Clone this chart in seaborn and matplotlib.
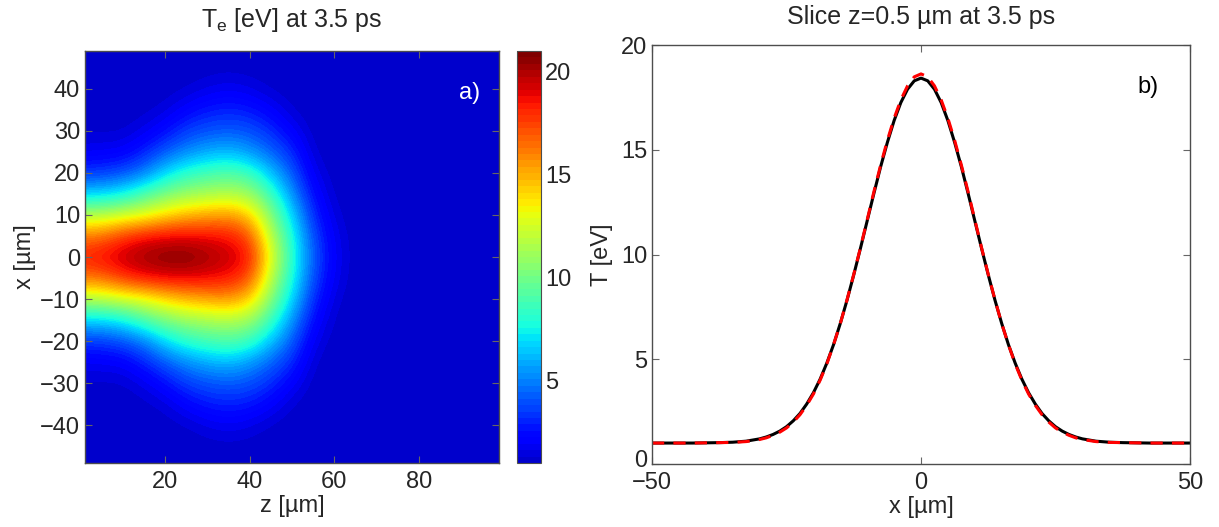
import numpy as np
import matplotlib
matplotlib.use('Agg')
import matplotlib.pyplot as plt
import seaborn as sns
from matplotlib.colors import ListedColormap
from matplotlib.transforms import ScaledTranslation

# --- panel a): T_e field on a 5 um grid (x >= 0 half, symmetric in x)
z_grid = [0, 5, 10, 15, 20, 25, 30, 35, 40, 45, 50, 55, 60, 65, 70, 75, 80, 85, 90, 95, 100]
x_half = [0, 5, 10, 15, 20, 25, 30, 35, 40, 45, 50]
te_cols = [
    [18.35, 16.3, 11.6, 6.7, 3.4, 1.8, 1.2, 1.04, 1.0, 1.0, 1.0],     # z=0
    [18.9, 16.5, 11.8, 6.8, 3.5, 1.9, 1.2, 1.05, 1.0, 1.0, 1.0],      # z=5
    [19.7, 17.8, 12.4, 7.4, 4.0, 2.0, 1.2, 1.05, 1.0, 1.0, 1.0],      # z=10
    [20.4, 18.6, 12.9, 9.0, 4.9, 3.0, 1.65, 1.15, 1.02, 1.0, 1.0],    # z=15
    [20.9, 18.9, 14.0, 10.2, 6.9, 4.2, 2.5, 1.4, 1.08, 1.0, 1.0],     # z=20
    [20.9, 19.0, 14.8, 11.0, 8.2, 5.2, 3.6, 2.2, 1.25, 1.03, 1.0],    # z=25
    [20.3, 18.8, 15.2, 11.4, 8.8, 5.9, 4.0, 2.8, 1.6, 1.1, 1.0],      # z=30
    [19.6, 18.5, 15.6, 11.6, 9.2, 6.25, 4.2, 3.0, 1.85, 1.15, 1.02],  # z=35
    [18.6, 17.3, 14.4, 11.2, 8.6, 5.5, 4.0, 2.8, 1.6, 1.1, 1.0],      # z=40
    [13.0, 11.9, 10.5, 8.65, 6.4, 4.4, 3.25, 2.1, 1.2, 1.05, 1.0],    # z=45
    [8.1, 7.8, 6.8, 5.45, 4.25, 3.2, 2.1, 1.25, 1.05, 1.0, 1.0],      # z=50
    [4.3, 3.9, 3.2, 2.45, 1.75, 1.25, 1.05, 1.0, 1.0, 1.0, 1.0],      # z=55
    [1.9, 1.75, 1.4, 1.15, 1.05, 1.0, 1.0, 1.0, 1.0, 1.0, 1.0],       # z=60
    [1.05, 1.03, 1.0, 1.0, 1.0, 1.0, 1.0, 1.0, 1.0, 1.0, 1.0],        # z=65
    [1.0, 1.0, 1.0, 1.0, 1.0, 1.0, 1.0, 1.0, 1.0, 1.0, 1.0],          # z=70
    [1.0, 1.0, 1.0, 1.0, 1.0, 1.0, 1.0, 1.0, 1.0, 1.0, 1.0],
    [1.0, 1.0, 1.0, 1.0, 1.0, 1.0, 1.0, 1.0, 1.0, 1.0, 1.0],
    [1.0, 1.0, 1.0, 1.0, 1.0, 1.0, 1.0, 1.0, 1.0, 1.0, 1.0],
    [1.0, 1.0, 1.0, 1.0, 1.0, 1.0, 1.0, 1.0, 1.0, 1.0, 1.0],
    [1.0, 1.0, 1.0, 1.0, 1.0, 1.0, 1.0, 1.0, 1.0, 1.0, 1.0],
    [1.0, 1.0, 1.0, 1.0, 1.0, 1.0, 1.0, 1.0, 1.0, 1.0, 1.0],          # z=100
]

# --- panel b): slice at z = 0.5 um (black = simulation, red dashed = fit)
x_slice = [-50, -47.5, -45, -42.5, -40, -37.5, -35, -32.5,
           -30, -28.75, -27.5, -26.25, -25, -23.75, -22.5, -21.25, -20, -18.75,
           -17.5, -16.25, -15, -13.75, -12.5, -11.25, -10, -8.75, -7.5, -6.25,
           -5, -3.75, -2.5, -1.25, 0, 1.25, 2.5, 3.75, 5, 6.25, 7.5, 8.75,
           10, 11.25, 12.5, 13.75, 15, 16.25, 17.5, 18.75, 20, 21.25, 22.5,
           23.75, 25, 26.25, 27.5, 28.75, 30,
           32.5, 35, 37.5, 40, 42.5, 45, 47.5, 50]
t_sim = [1.0, 1.0, 1.0, 1.0, 1.01, 1.02, 1.04, 1.09,
         1.2, 1.29, 1.41, 1.57, 1.78, 2.06, 2.41, 2.86, 3.4, 4.05,
         4.82, 5.7, 6.71, 7.82, 9.03, 10.3, 11.61, 12.92, 14.19, 15.35,
         16.39, 17.25, 17.89, 18.29, 18.42, 18.29, 17.89, 17.25, 16.39, 15.35, 14.19, 12.92,
         11.61, 10.3, 9.03, 7.82, 6.71, 5.7, 4.82, 4.05, 3.4, 2.86, 2.41,
         2.06, 1.78, 1.57, 1.41, 1.29, 1.2,
         1.09, 1.04, 1.02, 1.01, 1.0, 1.0, 1.0, 1.0]
t_fit = [1.0, 1.0, 1.0, 1.0, 1.01, 1.02, 1.03, 1.07,
         1.17, 1.25, 1.37, 1.52, 1.72, 2.0, 2.35, 2.8, 3.34, 4.0,
         4.78, 5.7, 6.7, 7.84, 9.05, 10.33, 11.66, 13.0, 14.27, 15.45,
         16.5, 17.38, 18.05, 18.48, 18.62, 18.48, 18.05, 17.38, 16.5, 15.45, 14.27, 13.0,
         11.66, 10.33, 9.05, 7.84, 6.7, 5.7, 4.78, 4.0, 3.34, 2.8, 2.35,
         2.0, 1.72, 1.52, 1.37, 1.25, 1.17,
         1.07, 1.03, 1.02, 1.01, 1.0, 1.0, 1.0, 1.0]

sns.set_style('ticks')
plt.rcParams['font.family'] = ['Liberation Sans', 'DejaVu Sans']
plt.rcParams['mathtext.fontset'] = 'custom'
plt.rcParams['mathtext.rm'] = 'Liberation Sans'
fs = 17

fig = plt.figure(figsize=(12.19, 5.27), dpi=100)
ax1 = fig.add_axes([85/1219, 64/527, 414/1219, 412/527])
cax = fig.add_axes([517/1219, 64/527, 24/1219, 412/527])
ax2 = fig.add_axes([652/1219, 63/527, 538/1219, 419/527])

# full field, mirrored to negative x
field = np.array([np.concatenate([c[:0:-1], c]) for c in te_cols]).T
dz = z_grid[1] - z_grid[0]
dx = x_half[1] - x_half[0]
jet64 = ListedColormap(matplotlib.colormaps['jet'](np.linspace(0.07, 1, 64)))
im = ax1.imshow(field, origin='lower', aspect='auto', cmap=jet64, vmin=1, vmax=21,
                extent=(z_grid[0] - dz/2, z_grid[-1] + dz/2,
                        -x_half[-1] - dx/2, x_half[-1] + dx/2),
                interpolation='bicubic', interpolation_stage='data')
ax1.set_xlim(1, 99)
ax1.set_ylim(-49, 49)
ax1.set_xticks([20, 40, 60, 80])
ax1.set_yticks([-40, -30, -20, -10, 0, 10, 20, 30, 40])
ax1.set_xlabel('z [µm]', fontsize=fs, labelpad=1)
ax1.set_ylabel('x [µm]', fontsize=fs, labelpad=3)
ax1.set_title(r'T$_\mathregular{e}$ [eV] at 3.5 ps', fontsize=18, pad=17)
ax1.text(0.93, 0.898, 'a)', color='white', fontsize=fs, transform=ax1.transAxes,
         ha='center', va='center')

cb = fig.colorbar(im, cax=cax, ticks=[5, 10, 15, 20])
cb.outline.set_edgecolor('0.3')
cax.tick_params(direction='in', length=4, left=True, right=True, labelsize=fs,
                color='0.3', pad=3)

sns.lineplot(x=x_slice, y=t_sim, ax=ax2, color='black', linewidth=2.2)
sns.lineplot(x=x_slice, y=t_fit, ax=ax2, color='red', linewidth=2.2, linestyle=(0, (4, 3)))
ax2.set_xlim(-50, 50)
ax2.set_ylim(0, 20)
ax2.set_xticks([-50, 0, 50])
ax2.set_yticks([0, 5, 10, 15, 20])
ax2.set_xlabel('x [µm]', fontsize=fs, labelpad=1)
ax2.set_ylabel('T [eV]', fontsize=fs, labelpad=6)
ax2.set_title('Slice z=0.5 µm at 3.5 ps', fontsize=18, pad=15)
ax2.text(0.922, 0.90, 'b)', color='black', fontsize=fs, transform=ax2.transAxes,
         ha='center', va='center')

for ax in (ax1, ax2):
    ax.tick_params(direction='in', length=5, top=True, right=True, labelsize=fs, color='0.4')
    ax.tick_params(axis='x', pad=6)
    for sp in ax.spines.values():
        sp.set_color('0.3')
        sp.set_linewidth(1)

# the "0" on the right panel sits just above the "-50"; nudge it up a little
fig.canvas.draw()
zero_lbl = ax2.get_yticklabels()[0]
zero_lbl.set_transform(zero_lbl.get_transform() + ScaledTranslation(0, 4/72, fig.dpi_scale_trans))

fig.savefig('out.png', dpi=100)
